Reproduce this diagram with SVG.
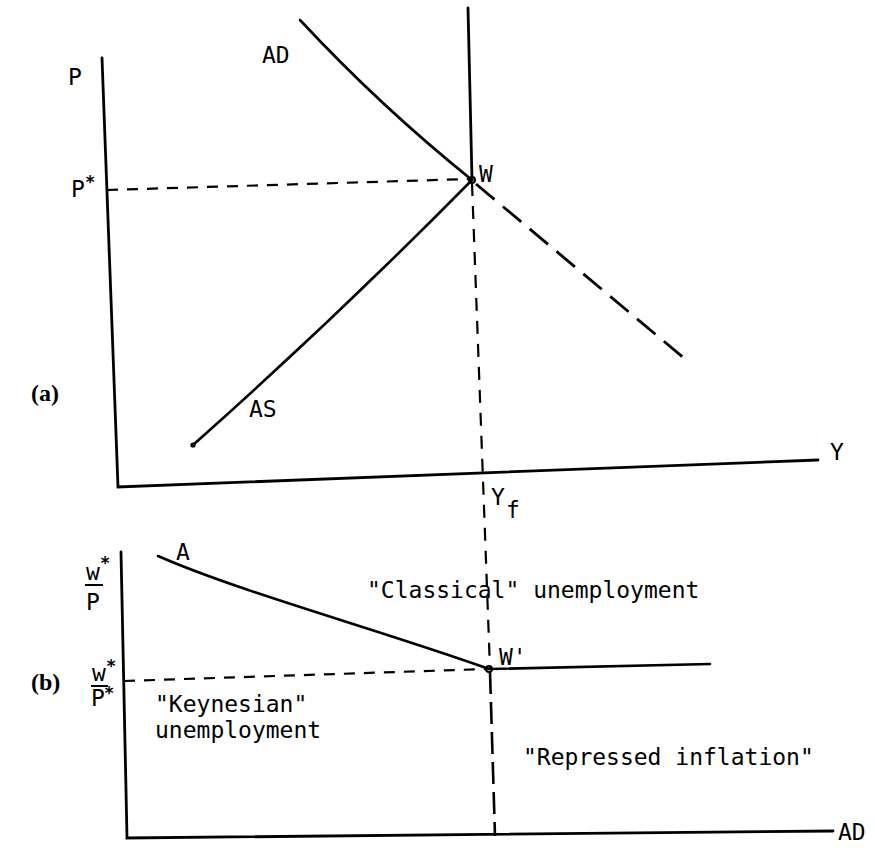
<svg xmlns="http://www.w3.org/2000/svg" width="875" height="848" viewBox="0 0 875 848">
<style>
.ax{fill:none;stroke:#000;stroke-width:2.8;stroke-linecap:round}
.cv{fill:none;stroke:#000;stroke-width:2.6;stroke-linecap:round}
.dh{fill:none;stroke:#000;stroke-width:2.2;stroke-dasharray:11 9}
.dl{fill:none;stroke:#000;stroke-width:2.8;stroke-dasharray:24 11}
.dv{fill:none;stroke:#000;stroke-width:2.2;stroke-dasharray:13 10}
.dv2{fill:none;stroke:#000;stroke-width:2.6;stroke-dasharray:22 8}
.t{font-family:"DejaVu Sans Mono","Liberation Mono",monospace;font-size:23px;fill:#000}
.s{font-family:"DejaVu Sans Mono","Liberation Mono",monospace;font-size:17px;font-weight:bold;fill:#000}
.pl{font-family:"Liberation Serif",serif;font-size:24px;font-weight:bold;fill:#000}
.pt{fill:none;stroke:#000;stroke-width:2}
</style>
<rect width="875" height="848" fill="#fff"/>
<g id="axes-a">
<polyline class="ax" points="102,58 118,487 818,460"/>
<text class="t" x="68" y="85">P</text>
<text class="t" x="830" y="460">Y</text>
</g>
<g id="axes-b">
<polyline class="ax" points="121,552 127,838 833,831"/>
<text class="t" x="838" y="840">AD</text>
</g>
<g id="connectors">
<path class="dh" d="M107,190 L470,179"/>
<path class="dh" d="M124,681 L487,669"/>
<path class="dv" d="M472,183 L490,669"/>
<path class="dv2" d="M490,672 L495,836"/>
<path class="dl" d="M476,184 L685,359"/>
<path class="ax" d="M468,8 L472,180"/>
</g>
<g id="curve-AD">
<path class="cv" d="M300,20 Q380,106 472,180"/>
<text class="t" x="262" y="63">AD</text>
</g>
<g id="curve-AS">
<path class="cv" d="M193,445 Q336,318 472,180"/>
<circle cx="193" cy="445" r="2.6"/>
<text class="t" x="249" y="417">AS</text>
</g>
<g id="node-W">
<circle class="pt" cx="472" cy="180" r="3"/>
<text class="t" x="479" y="182">W</text>
</g>
<g id="label-pstar">
<text class="t" x="71" y="197">P</text>
<text class="s" x="85" y="188">*</text>
</g>
<g id="label-Yf">
<text class="t" x="491" y="505">Y</text>
<text class="t" x="506" y="518">f</text>
</g>
<g id="label-a"><text class="pl" x="31" y="401">(a)</text></g>
<g id="label-b"><text class="pl" x="31" y="690">(b)</text></g>
<g id="label-wP">
<text class="t" x="86" y="580">w</text>
<text class="s" x="100" y="569">*</text>
<line x1="85" y1="585" x2="103" y2="585" stroke="#000" stroke-width="2"/>
<text class="t" x="86" y="610">P</text>
</g>
<g id="label-wPstar">
<text class="t" x="92" y="681">w</text>
<text class="s" x="106" y="672">*</text>
<line x1="91" y1="686" x2="108" y2="686" stroke="#000" stroke-width="2"/>
<text class="t" x="91" y="706">P</text>
<text class="s" x="104" y="699">*</text>
</g>
<g id="curve-A">
<path class="cv" d="M158,556 C240,592 380,630 489,669"/>
<text class="t" x="176" y="560">A</text>
</g>
<g id="node-Wprime">
<circle class="pt" cx="489" cy="669" r="3"/>
<path class="cv" d="M491,669 L710,664"/>
<text class="t" x="499" y="665">W'</text>
</g>
<g id="regions">
<text class="t" x="367" y="598">"Classical" unemployment</text>
<text class="t" x="155" y="712">"Keynesian"</text>
<text class="t" x="155" y="738">unemployment</text>
<text class="t" x="523" y="765">"Repressed inflation"</text>
</g>
</svg>
